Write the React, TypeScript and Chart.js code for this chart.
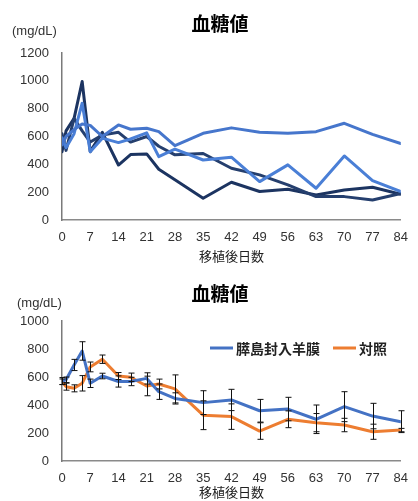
import React, { useEffect, useRef } from "react";
import { Chart, registerables } from "chart.js";

Chart.register(...registerables);

// ---------- data ----------
const days = [0, 1, 3, 5, 7, 10, 14, 17, 21, 24, 28, 35, 42, 49, 56, 63, 70, 77, 84];
const xTicks = [0, 7, 14, 21, 28, 35, 42, 49, 56, 63, 70, 77, 84];

// top chart: individual animals
const animalA = [540, 600, 650, 690, 680, 600, 683, 652, 659, 635, 535, 623, 662, 631, 623, 635, 695, 615, 550];
const animalB = [590, 520, 620, 839, 490, 588, 556, 582, 626, 455, 510, 431, 451, 276, 396, 228, 460, 283, 204];
const animalC = [620, 500, 730, 640, 560, 610, 630, 560, 600, 530, 468, 478, 372, 324, 252, 168, 168, 144, 190];
const animalD = [491, 640, 730, 995, 491, 630, 395, 470, 475, 365, 290, 156, 271, 205, 221, 180, 216, 235, 185];

// bottom chart: means and error bars
const seriesNames = ["膵島封入羊膜", "対照"];
const isletMean = [571, 580, 686, 786, 555, 607, 568, 568, 590, 495, 447, 417, 436, 359, 371, 298, 388, 321, 281];
const isletErr = [25, 20, 40, 66, 30, 20, 40, 30, 40, 55, 40, 85, 76, 81, 84, 102, 107, 91, 78];
const controlMean = [566, 531, 519, 555, 672, 727, 607, 598, 536, 550, 515, 327, 317, 214, 298, 274, 257, 209, 221];
const controlErr = [20, 25, 25, 55, 35, 30, 25, 30, 70, 35, 100, 103, 91, 59, 60, 65, 48, 54, 12];

const chartTitle = "血糖値";
const unitLabel = "(mg/dL)";
const xTitle = "移植後日数";

const toPoints = (vals: number[]) => vals.map((v, i) => ({ x: days[i], y: v }));

const NUM_FONT = "'Liberation Sans', Arial, sans-serif";
const CJK_FONT = "'Noto Sans CJK JP', 'Liberation Sans', sans-serif";

const decorPlugin = {
  id: "decor",
  afterDraw(chart: any, _args: any, opts: any) {
    const ctx = chart.ctx;
    ctx.save();
    if (opts.title) {
      ctx.font = `bold 19px ${CJK_FONT}`;
      ctx.fillStyle = "#000";
      ctx.textAlign = "center";
      ctx.textBaseline = "middle";
      ctx.fillText(opts.title.text, opts.title.x, opts.title.y);
    }
    if (opts.unit) {
      ctx.font = `13px ${NUM_FONT}`;
      ctx.fillStyle = "#333";
      ctx.textAlign = "left";
      ctx.textBaseline = "middle";
      ctx.fillText(opts.unit.text, opts.unit.x, opts.unit.y);
    }
    if (opts.legend) {
      opts.legend.forEach((item: any) => {
        const ds = chart.data.datasets[item.index];
        ctx.strokeStyle = ds.borderColor;
        ctx.lineWidth = 3;
        ctx.beginPath();
        ctx.moveTo(item.x, item.y);
        ctx.lineTo(item.x + 23, item.y);
        ctx.stroke();
        ctx.font = `bold 14px ${CJK_FONT}`;
        ctx.fillStyle = "#222";
        ctx.textAlign = "left";
        ctx.textBaseline = "middle";
        ctx.fillText(ds.label, item.x + 26, item.y + 1);
      });
    }
    ctx.restore();
  },
};

const errorBarPlugin = {
  id: "errorBars",
  afterDatasetsDraw(chart: any, _args: any, opts: any) {
    if (!opts.errors) return;
    const ctx = chart.ctx;
    const xs = chart.scales.x;
    const ys = chart.scales.y;
    ctx.save();
    ctx.strokeStyle = "#111";
    ctx.lineWidth = 1;
    opts.errors.forEach((errs: number[], di: number) => {
      const ds = chart.data.datasets[di];
      ds.data.forEach((p: any, i: number) => {
        const e = errs[i];
        const x = Math.round(xs.getPixelForValue(p.x)) + 0.5;
        const yt = ys.getPixelForValue(p.y + e);
        const yb = ys.getPixelForValue(p.y - e);
        ctx.beginPath();
        ctx.moveTo(x, yt);
        ctx.lineTo(x, yb);
        ctx.moveTo(x - 3, yt);
        ctx.lineTo(x + 3, yt);
        ctx.moveTo(x - 3, yb);
        ctx.lineTo(x + 3, yb);
        ctx.stroke();
      });
    });
    ctx.restore();
  },
};

function makeScales(yMax: number, xAxisHeight: number) {
  return {
    x: {
      type: "linear",
      min: 0,
      max: 84,
      afterFit: (s: any) => {
        s.height = xAxisHeight;
      },
      afterBuildTicks: (s: any) => {
        s.ticks = xTicks.map((v) => ({ value: v }));
      },
      grid: { display: false, drawTicks: false },
      border: { display: true, color: "#8a8a8a", width: 1.5 },
      ticks: {
        autoSkip: false,
        maxRotation: 0,
        padding: 10,
        color: "#333",
        font: { family: NUM_FONT, size: 13 },
        callback: (v: any) => String(v),
      },
      title: {
        display: true,
        text: xTitle,
        color: "#222",
        font: { family: CJK_FONT, size: 13, lineHeight: 1.0 },
        padding: { top: 0, bottom: 2 },
      },
    },
    y: {
      type: "linear",
      min: 0,
      max: yMax,
      afterFit: (s: any) => {
        s.width = 62;
      },
      grid: { display: false, drawTicks: false },
      border: { display: true, color: "#7a7a7a", width: 1.5 },
      ticks: {
        stepSize: 200,
        padding: 13,
        color: "#333",
        font: { family: NUM_FONT, size: 13 },
        callback: (v: any) => String(v),
      },
    },
  };
}

function TopChart() {
  const ref = useRef<HTMLCanvasElement | null>(null);
  useEffect(() => {
    const lineStyle = {
      borderWidth: 3,
      pointRadius: 0,
      tension: 0,
      fill: false,
      borderJoinStyle: "round" as const,
      borderCapStyle: "round" as const,
    };
    const chart = new Chart(ref.current as HTMLCanvasElement, {
      type: "line",
      data: {
        datasets: [
          { label: "A", data: toPoints(animalA), borderColor: "#4676cc", ...lineStyle },
          { label: "B", data: toPoints(animalB), borderColor: "#4a7fd6", ...lineStyle },
          { label: "C", data: toPoints(animalC), borderColor: "#253f6e", ...lineStyle },
          { label: "D", data: toPoints(animalD), borderColor: "#1c3461", ...lineStyle },
        ],
      },
      options: {
        animation: false,
        responsive: false,
        devicePixelRatio: 1,
        layout: { padding: { left: 0, right: 9, top: 53, bottom: 0 } },
        scales: makeScales(1200, 45) as any,
        plugins: {
          legend: { display: false },
          tooltip: { enabled: false },
          decor: {
            title: { text: chartTitle, x: 220, y: 24 },
            unit: { text: unitLabel, x: 12, y: 31 },
          },
        } as any,
      },
      plugins: [decorPlugin],
    });
    return () => chart.destroy();
  }, []);
  return <canvas ref={ref} width={418} height={265} style={{ display: "block" }} />;
}

function BottomChart() {
  const ref = useRef<HTMLCanvasElement | null>(null);
  useEffect(() => {
    const lineStyle = {
      borderWidth: 3,
      pointRadius: 0,
      tension: 0,
      fill: false,
      borderJoinStyle: "round" as const,
      borderCapStyle: "round" as const,
    };
    const chart = new Chart(ref.current as HTMLCanvasElement, {
      type: "line",
      data: {
        datasets: [
          { label: seriesNames[0], data: toPoints(isletMean), borderColor: "#4472C4", ...lineStyle },
          { label: seriesNames[1], data: toPoints(controlMean), borderColor: "#ED7D31", ...lineStyle },
        ],
      },
      options: {
        animation: false,
        responsive: false,
        devicePixelRatio: 1,
        layout: { padding: { left: 0, right: 9, top: 56, bottom: 0 } },
        scales: makeScales(1000, 40) as any,
        plugins: {
          legend: { display: false },
          tooltip: { enabled: false },
          errorBars: { errors: [isletErr, controlErr] },
          decor: {
            title: { text: chartTitle, x: 220, y: 29 },
            unit: { text: unitLabel, x: 17, y: 38 },
            legend: [
              { index: 0, x: 210, y: 83 },
              { index: 1, x: 333, y: 83 },
            ],
          },
        } as any,
      },
      plugins: [errorBarPlugin, decorPlugin],
    });
    return () => chart.destroy();
  }, []);
  return <canvas ref={ref} width={418} height={236} style={{ display: "block" }} />;
}

export default function App() {
  return (
    <div style={{ position: "absolute", left: 0, top: 0, width: 418, height: 501, background: "#fff" }}>
      <TopChart />
      <BottomChart />
    </div>
  );
}
